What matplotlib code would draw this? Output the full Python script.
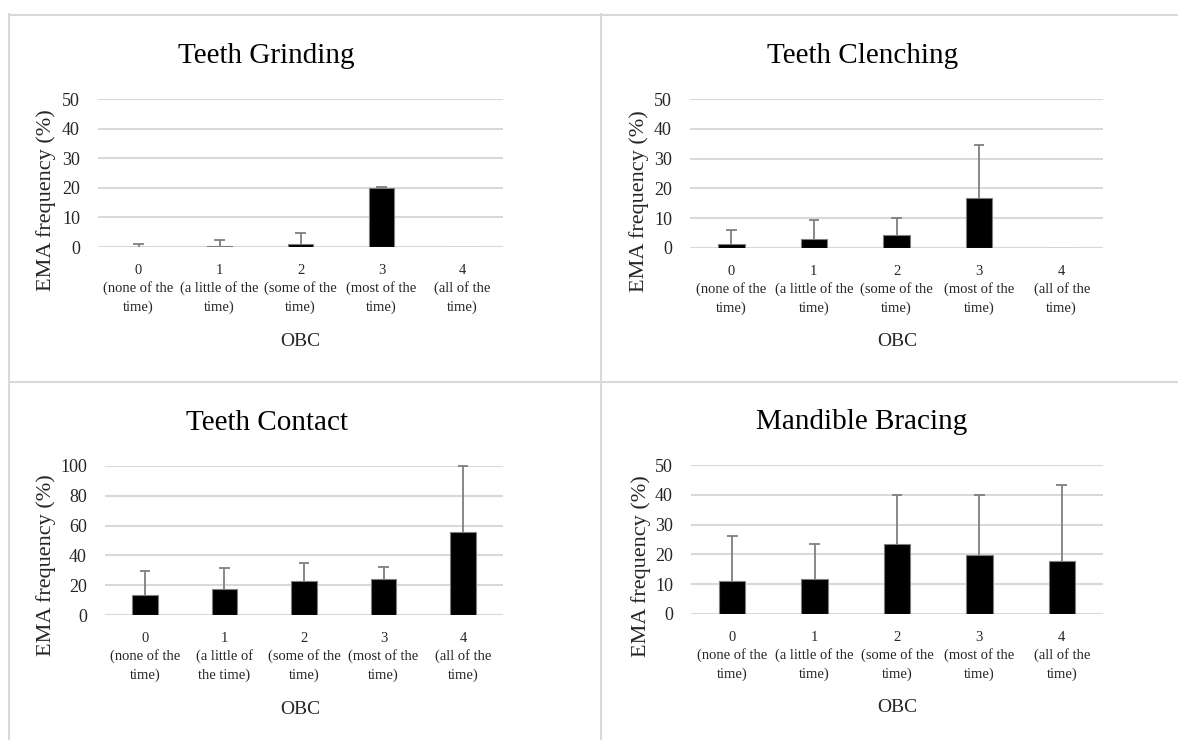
import numpy as np
import matplotlib
matplotlib.use('Agg')
import matplotlib.pyplot as plt
from matplotlib.lines import Line2D

plt.rcParams['font.family'] = ['Liberation Serif', 'DejaVu Serif']

# data (means and upper error bars, %)
obc = [0, 1, 2, 3, 4]
titles = ['Teeth Grinding', 'Teeth Clenching', 'Teeth Contact', 'Mandible Bracing']

grinding_mean = [0.1, 0.4, 1.0, 20.0, 0.0]
grinding_err = [0.9, 2.1, 3.6, 0.3, 0.0]
clenching_mean = [1.2, 3.0, 4.5, 16.7, 0.0]
clenching_err = [5.0, 6.4, 5.5, 17.8, 0.0]
contact_mean = [13.6, 17.7, 22.6, 24.2, 55.9]
contact_err = [15.7, 13.8, 12.5, 8.0, 44.1]
bracing_mean = [11.1, 11.9, 23.5, 19.8, 17.7]
bracing_err = [15.1, 11.5, 16.5, 20.1, 25.5]

ymax = [50, 50, 100, 50]
ystep = [10, 10, 20, 10]

labels_std = ['0\n(none of the\ntime)', '1\n(a little of the\ntime)', '2\n(some of the\ntime)',
              '3\n(most of the\ntime)', '4\n(all of the\ntime)']
labels_contact = ['0\n(none of the\ntime)', '1\n(a little of\nthe time)', '2\n(some of the\ntime)',
                  '3\n(most of the\ntime)', '4\n(all of the\ntime)']

means = [grinding_mean, clenching_mean, contact_mean, bracing_mean]
errs = [grinding_err, clenching_err, contact_err, bracing_err]
xlabels = [labels_std, labels_std, labels_contact, labels_std]

W, H = 1178, 740
fig = plt.figure(figsize=(W / 100, H / 100), dpi=100)

def fx(px):
    return px / W

def fy(py):
    return 1 - py / H

# plot boxes in pixels: left, right, y of zero, y of top
boxes = [(98, 503, 247, 99), (690, 1103, 248, 99), (105, 503, 615, 466), (691, 1103, 614, 465)]
title_pos = [(266, 63), (863, 63), (267, 430), (862, 429)]
ylab_pos = [(46, 200), (639, 201), (46, 565), (641, 566)]
obc_pos = [(300, 342), (897, 342), (300, 710), (897, 708)]

grid_col = '#d9d9d9'
txt_col = '#262626'

for i in range(4):
    l, r, y0, yt = boxes[i]
    ax = fig.add_axes([fx(l), fy(y0), fx(r) - fx(l), fy(yt) - fy(y0)])
    m = np.array(means[i])
    e = np.array(errs[i])
    ax.bar(obc, m, width=0.32, color='black', edgecolor='#7f7f7f', linewidth=0.8, zorder=3)
    # plus-only error bars, Excel style
    show = e > 0
    x = np.array(obc)[show]
    ax.vlines(x, m[show], (m + e)[show], color='#7f7f7f', linewidth=1.3, zorder=4, clip_on=False)
    ax.hlines((m + e)[show], x - 0.065, x + 0.065, color='#7f7f7f', linewidth=1.3, zorder=4, clip_on=False)

    ax.set_xlim(-0.5, 4.5)
    ax.set_ylim(0, ymax[i])
    ax.set_yticks(np.arange(0, ymax[i] + 1, ystep[i]))
    ax.yaxis.grid(True, color=grid_col, linewidth=1.5, zorder=0)
    ax.set_axisbelow(True)
    for s in ax.spines.values():
        s.set_visible(False)
    ax.tick_params(axis='both', length=0, colors=txt_col)
    ax.tick_params(axis='y', labelsize=13, pad=13)
    ax.set_xticks(obc)
    ax.set_xticklabels(xlabels[i], fontsize=10.5, linespacing=1.45)
    ax.tick_params(axis='x', pad=12)
    ax.patch.set_alpha(0)

    tx, ty = title_pos[i]
    fig.text(fx(tx), fy(ty), titles[i], ha='center', va='baseline', fontsize=21, color='black')
    lx, ly = ylab_pos[i]
    fig.text(fx(lx), fy(ly), 'EMA frequency (%)', ha='center', va='center', rotation=90,
             fontsize=16, color=txt_col)
    ox, oy = obc_pos[i]
    fig.text(fx(ox), fy(oy), 'OBC', ha='center', va='center', fontsize=14, color=txt_col)

# panel borders
border = dict(color=grid_col, linewidth=1.5, transform=fig.transFigure)
fig.add_artist(Line2D([fx(9), fx(9)], [fy(14), 0], **border))
fig.add_artist(Line2D([fx(9), 1], [fy(14.5), fy(14.5)], **border))
fig.add_artist(Line2D([fx(601), fx(601)], [fy(14), 0], **border))
fig.add_artist(Line2D([fx(9), 1], [fy(381.5), fy(381.5)], **border))

fig.savefig('out.png', dpi=100, facecolor='white')
